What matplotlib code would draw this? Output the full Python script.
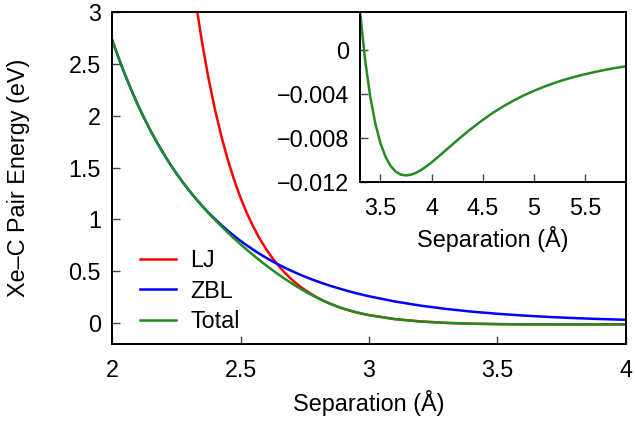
import matplotlib

matplotlib.use("Agg")
import matplotlib.pyplot as plt
from matplotlib.ticker import FuncFormatter

plt.rcParams["font.family"] = ["Liberation Sans", "DejaVu Sans"]
plt.rcParams["font.size"] = 16.8

# separation (Å)
sep = [2.0, 2.025, 2.05, 2.075, 2.1, 2.125, 2.15, 2.175, 2.2, 2.225, 2.25, 2.275, 2.3,
       2.325, 2.35, 2.375, 2.4, 2.425, 2.45, 2.475, 2.5, 2.525, 2.55, 2.575, 2.6,
       2.625, 2.65, 2.675, 2.7, 2.725, 2.75, 2.775, 2.8, 2.825, 2.85, 2.875, 2.9,
       2.925, 2.95, 2.975, 3.0, 3.1, 3.2, 3.3, 3.4, 3.5, 3.6, 3.7, 3.8, 3.9, 4.0]

lj_energy = [20.39, 17.5, 15.05, 12.95, 11.17, 9.643, 8.337, 7.217, 6.255, 5.428, 4.715, 4.1, 3.569,
             3.11, 2.712, 2.367, 2.067, 1.807, 1.58, 1.383, 1.21, 1.06, 0.9286, 0.8137, 0.7131, 0.625,
             0.5477, 0.4799, 0.4203, 0.368, 0.322, 0.2816, 0.246, 0.2146, 0.187, 0.1627, 0.1413, 0.1224,
             0.1057, 0.09104, 0.0781, 0.03998, 0.0171, 0.003574, -0.004211, -0.008461, -0.01055,
             -0.01133, -0.01133, -0.01089, -0.01021]

zbl_energy = [2.735, 2.561, 2.399, 2.249, 2.108, 1.978, 1.856, 1.743, 1.637, 1.538, 1.446, 1.36, 1.279,
              1.204, 1.133, 1.067, 1.006, 0.9477, 0.8934, 0.8424, 0.7946, 0.7498, 0.7077, 0.6681, 0.6309,
              0.5959, 0.563, 0.5321, 0.503, 0.4756, 0.4497, 0.4254, 0.4025, 0.3809, 0.3605, 0.3413, 0.3232,
              0.306, 0.2899, 0.2746, 0.2602, 0.2101, 0.17, 0.1379, 0.112, 0.09116, 0.07429, 0.06063,
              0.04954, 0.04052, 0.03318]

total_energy = [2.735, 2.561, 2.399, 2.249, 2.108, 1.978, 1.856, 1.743, 1.637, 1.538, 1.446, 1.36, 1.279,
                1.204, 1.132, 1.063, 0.9981, 0.9355, 0.8753, 0.8173, 0.7615, 0.7076, 0.6556, 0.6054, 0.5572,
                0.5108, 0.4663, 0.4239, 0.3834, 0.3451, 0.309, 0.2751, 0.2434, 0.2141, 0.187, 0.1627, 0.1413,
                0.1224, 0.1057, 0.09104, 0.0781, 0.03998, 0.0171, 0.003574, -0.004211, -0.008461, -0.01055,
                -0.01133, -0.01133, -0.01089, -0.01021]

# inset: well region of the total potential
sep_inset = [3.3, 3.35, 3.4, 3.45, 3.5, 3.55, 3.6, 3.65, 3.7, 3.75, 3.8, 3.85, 3.9, 3.95, 4.0,
             4.05, 4.1, 4.15, 4.2, 4.25, 4.3, 4.35, 4.4, 4.45, 4.5, 4.6, 4.7, 4.8, 4.9, 5.0,
             5.1, 5.2, 5.3, 5.4, 5.5, 5.6, 5.7, 5.8, 5.9]
total_inset = [0.00357, -0.00087, -0.00421, -0.00668, -0.00846, -0.00971, -0.01055, -0.01106, -0.01133,
               -0.01140, -0.01133, -0.01115, -0.01089, -0.01057, -0.01021, -0.00982, -0.00942, -0.00901,
               -0.00861, -0.00820, -0.00781, -0.00742, -0.00705, -0.00669, -0.00634, -0.00569, -0.00511,
               -0.00458, -0.00411, -0.00369, -0.00331, -0.00297, -0.00267, -0.00241, -0.00217, -0.00196,
               -0.00177, -0.00160, -0.00145]

RED = "#ff0000"
BLUE = "#0000ff"
GREEN = "#228b22"


def fmt(v, _pos):
    return f"{v:g}".replace("-", "\u2212")


def style_axes(ax):
    for side in ax.spines.values():
        side.set_linewidth(1.4)
    ax.tick_params(direction="in", length=6, width=1, color="#444444",
                   top=False, right=False)
    ax.tick_params(axis="x", pad=11)
    ax.tick_params(axis="y", pad=8)
    ax.xaxis.set_major_formatter(FuncFormatter(fmt))
    ax.yaxis.set_major_formatter(FuncFormatter(fmt))


fig = plt.figure(figsize=(6.35, 4.21), dpi=100)
ax = fig.add_axes([0.1764, 0.1829, 0.8094, 0.7886])

ax.plot(sep, lj_energy, color=RED, lw=1.8, label="LJ")
ax.plot(sep, zbl_energy, color=BLUE, lw=1.8, label="ZBL")
ax.plot(sep, total_energy, color=GREEN, lw=1.8, label="Total")
ax.set_xlim(2, 4)
ax.set_ylim(-0.2, 3)
ax.set_xticks([2, 2.5, 3, 3.5, 4])
ax.set_yticks([0, 0.5, 1, 1.5, 2, 2.5, 3])
ax.set_xlabel("Separation (Å)")
ax.set_ylabel("Xe–C Pair Energy (eV)")
style_axes(ax)
ax.xaxis.set_label_coords(0.5, -0.178, transform=ax.transAxes)
ax.xaxis.label.set_va("center")
ax.yaxis.set_label_coords(-0.181, 0.5, transform=ax.transAxes)
ax.yaxis.label.set_va("center")

ax.legend(loc="upper left", bbox_to_anchor=(0.0545, 0.285), frameon=False,
          handlelength=1.55, handletextpad=0.6, labelspacing=0.31,
          borderpad=0, borderaxespad=0)

axin = fig.add_axes([0.5669, 0.5677, 0.4189, 0.4038])
axin.plot(sep_inset, total_inset, color=GREEN, lw=1.8)
axin.set_xlim(3.3, 5.9)
axin.set_ylim(-0.012, 0.0035)
axin.set_xticks([3.5, 4, 4.5, 5, 5.5])
axin.set_yticks([0, -0.004, -0.008, -0.012])
axin.set_xlabel("Separation (Å)")
style_axes(axin)
axin.xaxis.set_label_coords(0.5, -0.335, transform=axin.transAxes)
axin.xaxis.label.set_va("center")

fig.savefig("out.png", dpi=100)
plt.close(fig)
